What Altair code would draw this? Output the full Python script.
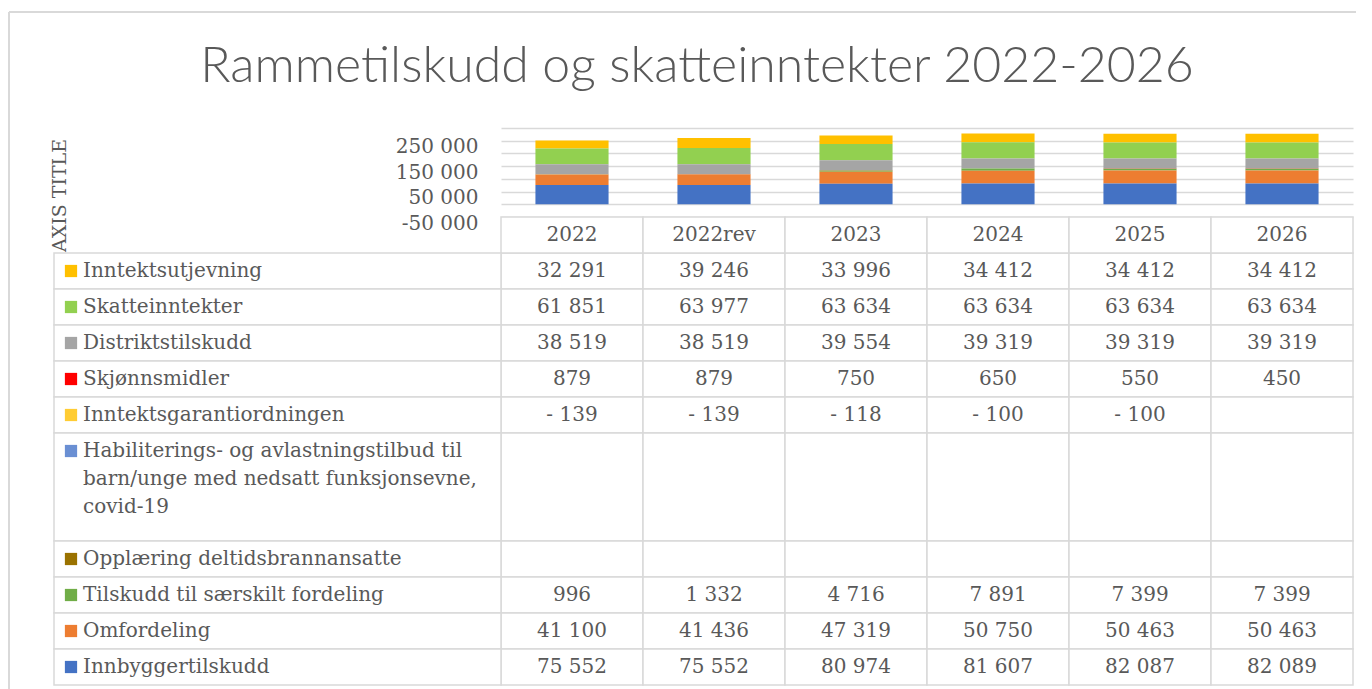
import altair as alt
import pandas as pd

# ---------------- data ----------------
title_text = "Rammetilskudd og skatteinntekter 2022-2026"
years = ["2022", "2022rev", "2023", "2024", "2025", "2026"]

series = [
    "Inntektsutjevning",
    "Skatteinntekter",
    "Distriktstilskudd",
    "Skjønnsmidler",
    "Inntektsgarantiordningen",
    "Habiliterings- og avlastningstilbud til\nbarn/unge med nedsatt funksjonsevne,\ncovid-19",
    "Opplæring deltidsbrannansatte",
    "Tilskudd til særskilt fordeling",
    "Omfordeling",
    "Innbyggertilskudd",
]

colors = [
    "#FFC000", "#92D050", "#A5A5A5", "#FF0000", "#FFCC33",
    "#6A8FD3", "#9A7200", "#70AD47", "#ED7D31", "#4472C4",
]

inntektsutjevning = [32291, 39246, 33996, 34412, 34412, 34412]
skatteinntekter = [61851, 63977, 63634, 63634, 63634, 63634]
distriktstilskudd = [38519, 38519, 39554, 39319, 39319, 39319]
skjonnsmidler = [879, 879, 750, 650, 550, 450]
inntektsgaranti = [-139, -139, -118, -100, -100, None]
habilitering = [None, None, None, None, None, None]
opplaering = [None, None, None, None, None, None]
saerskilt = [996, 1332, 4716, 7891, 7399, 7399]
omfordeling = [41100, 41436, 47319, 50750, 50463, 50463]
innbyggertilskudd = [75552, 75552, 80974, 81607, 82087, 82089]

values = [inntektsutjevning, skatteinntekter, distriktstilskudd, skjonnsmidler,
          inntektsgaranti, habilitering, opplaering, saerskilt, omfordeling,
          innbyggertilskudd]

# ---------------- style ----------------
SERIF = "DejaVu Serif"
GRAY = "#595959"
LINE = "#D9D9D9"
FS = 20
W = 852
H_BAR = 89
ROW = 36
LH = 28
LEG_W = 447


def fmt(v):
    if v is None:
        return ""
    s = f"{abs(v):,}".replace(",", " ")
    return "- " + s if v < 0 else s


# ---------------- derived tables ----------------
bar_rows, cell_rows, leg_rows = [], [], []
y = 1.0
n = len(series)
for i, (name, vals) in enumerate(zip(series, values)):
    lines = name.count("\n") + 1
    y0, y1 = y, y + lines
    yfirst = y0 + 0.5
    leg_rows.append(dict(series=name, y0=y0, y1=y1, yfirst=yfirst))
    for yr, v in zip(years, vals):
        cell_rows.append(dict(year=yr, y0=y0, y1=y1, ytext=yfirst, label=fmt(v)))
        if v is not None:
            bar_rows.append(dict(year=yr, series=name, value=v, order=n - 1 - i))
    y = y1
total_units = y
for yr in years:
    cell_rows.append(dict(year=yr, y0=0.0, y1=1.0, ytext=0.5, label=yr))

bar_df = pd.DataFrame(bar_rows)
cell_df = pd.DataFrame(cell_rows)
leg_df = pd.DataFrame(leg_rows)
one = pd.DataFrame({"t": [title_text]})

color_scale = alt.Scale(domain=series, range=colors)
x_band = alt.Scale(domain=years, paddingInner=0, paddingOuter=0)

label_expr = ("(datum.value + 50000) % 100000 == 0 ? "
              "(datum.value < 0 ? '-' : '') + replace(format(abs(datum.value), ','), ',', ' ') : ''")

bars = alt.Chart(bar_df).mark_bar(width=alt.RelativeBandSize(0.515)).encode(
    x=alt.X("year:N", sort=years, scale=x_band, axis=None),
    y=alt.Y("value:Q", stack="zero",
            scale=alt.Scale(domain=[-50000, 300000], nice=False, zero=False),
            axis=alt.Axis(values=list(range(-50000, 300001, 50000)), grid=True,
                          gridColor=LINE, gridWidth=1.3, domain=False, ticks=False,
                          labelExpr=label_expr, labelOverlap=False,
                          labelFont=SERIF, labelFontSize=FS, labelColor=GRAY,
                          labelPadding=23, labelOffset=6,
                          title="AXIS TITLE", titleFont=SERIF, titleFontSize=19,
                          titleFontWeight="normal", titleColor=GRAY,
                          titleX=-436, titleY=67, titleAngle=270,
                          titleBaseline="alphabetic", titleAlign="center")),
    color=alt.Color("series:N", scale=color_scale, legend=None),
    order=alt.Order("order:Q"),
)

title_mark = alt.Chart(one).mark_text(font="Lato", fontSize=50, fontWeight=300,
                                      color=GRAY, align="center",
                                      baseline="alphabetic").encode(
    x=alt.value(196), y=alt.value(-46), text="t:N")

frame_left = alt.Chart(one).mark_rule(color=LINE, strokeWidth=2).encode(
    x=alt.value(-492), y=alt.value(-116), y2=alt.value(561))
frame_top = alt.Chart(one).mark_rule(color=LINE, strokeWidth=2).encode(
    x=alt.value(-492), x2=alt.value(855), y=alt.value(-116))

top = alt.layer(frame_left, frame_top, bars, title_mark).properties(width=W, height=H_BAR)

y_tab = alt.Scale(domain=[0, total_units], reverse=True, nice=False, zero=False)

cells = alt.Chart(cell_df).mark_rect(fill="white", stroke=LINE, strokeWidth=1.5).encode(
    x=alt.X("year:N", sort=years, scale=x_band, axis=None),
    y=alt.Y("y0:Q", scale=y_tab, axis=None),
    y2="y1:Q",
)
cell_text = alt.Chart(cell_df).mark_text(font=SERIF, fontSize=FS, color=GRAY,
                                         baseline="middle").encode(
    x=alt.X("year:N", sort=years, scale=x_band, axis=None),
    y=alt.Y("ytext:Q", scale=y_tab, axis=None),
    text="label:N",
)
leg_cells = alt.Chart(leg_df).mark_rect(fill="white", stroke=LINE, strokeWidth=1.5).encode(
    x=alt.value(-LEG_W), x2=alt.value(0),
    y=alt.Y("y0:Q", scale=y_tab, axis=None),
    y2="y1:Q",
)
leg_sw = alt.Chart(leg_df).mark_square(size=150, opacity=1, filled=True).encode(
    x=alt.value(-LEG_W + 17),
    y=alt.Y("yfirst:Q", scale=y_tab, axis=None),
    color=alt.Color("series:N", scale=color_scale, legend=None),
)
leg_text = alt.Chart(leg_df).mark_text(font=SERIF, fontSize=FS, color=GRAY, align="left",
                                       baseline="middle", lineBreak="\n",
                                       lineHeight=LH).encode(
    x=alt.value(-LEG_W + 29),
    y=alt.Y("yfirst:Q", scale=y_tab, axis=None),
    text="series:N",
)

table = alt.layer(cells, cell_text, leg_cells, leg_sw, leg_text).properties(
    width=W, height=int(total_units * ROW))

chart = alt.vconcat(top, table, spacing=0, bounds="flush").configure_view(
    stroke=None).properties(
    padding={"left": 0, "top": 3, "right": 0, "bottom": 0},
    background="white",
)

chart.save("out.html", embed_options={"renderer": "svg", "actions": False})
